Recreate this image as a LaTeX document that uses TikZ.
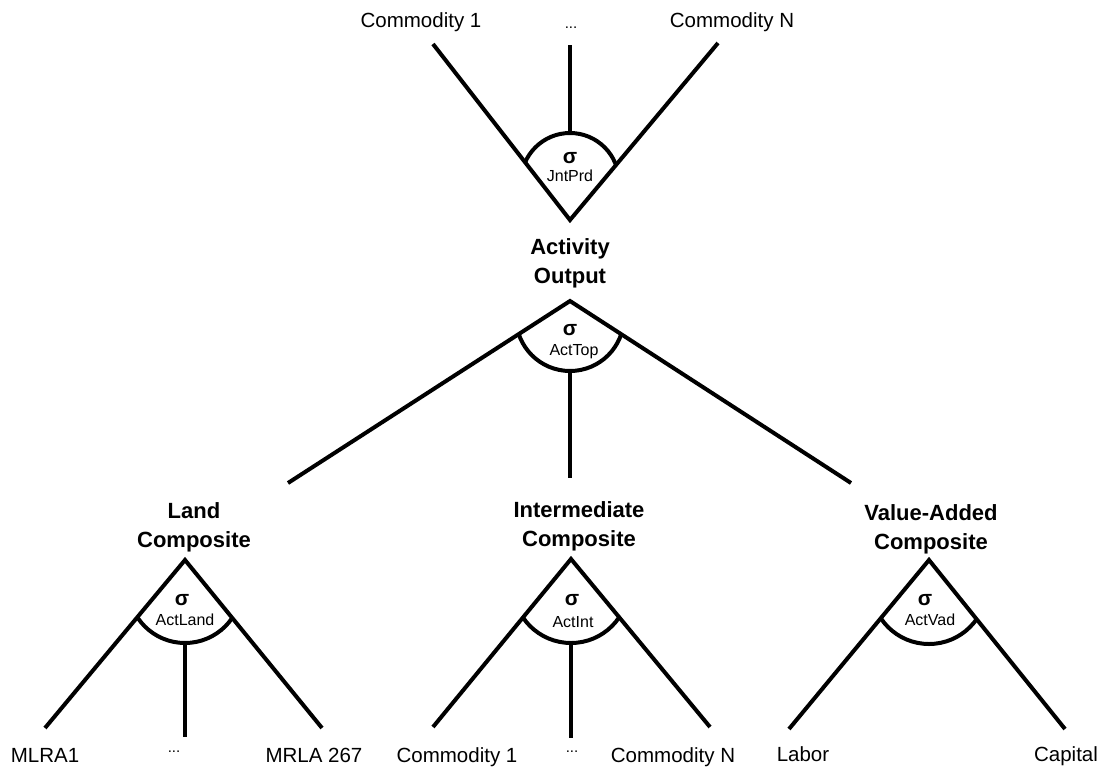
\documentclass[tikz,border=0pt]{standalone}
\usepackage{fontspec}
\setmainfont{Liberation Sans}
\begin{document}
\begin{tikzpicture}[x=1pt,y=-1pt,
  branch/.style={line width=4pt, line join=miter},
  sigarc/.style={line width=4pt},
  leaf/.style={anchor=base, inner sep=0pt, font=\fontsize{20.5}{24}\selectfont},
  gap/.style={anchor=base, inner sep=0pt, font=\fontsize{15}{18}\selectfont},
  agg/.style={anchor=base, inner sep=0pt, align=center, font=\fontsize{22}{29}\selectfont\bfseries},
  sig/.style={anchor=base, inner sep=0pt, font=\fontsize{21}{24}\selectfont\bfseries},
  nest/.style={anchor=base, inner sep=0pt, font=\fontsize{16}{18}\selectfont},
]
\useasboundingbox (0,0) rectangle (1106,769);

% ---- joint production nest (top) ----
\coordinate (jv) at (570,220);
\coordinate (jl) at (433,44);
\coordinate (jr) at (718,43);
\coordinate (jm) at (570,45);
\coordinate (jt) at (570,133);
\coordinate (jc) at (570,182);
\draw[branch] (jl) -- (jv) -- (jr);
\draw[branch] (jm) -- (jt);
\begin{scope}
  \clip (jl) -- (jv) -- (jr) -- cycle;
  \draw[sigarc] (jc) circle[radius=49pt];
\end{scope}
\node[leaf] (c1top) at (421,27) {Commodity 1};
\node[gap]  (dtop)  at (571,28) {...};
\node[leaf] (cntop) at (732,27) {Commodity N};
\node[sig]  (jsig)  at (570,163) {σ};
\node[nest] (jsub)  at (570,181) {JntPrd};

% ---- activity output (base anchor sits on the second line) ----
\node[agg] (act) at (570,283) {Activity\\Output};
\coordinate (tv) at (570,301);
\coordinate (tl) at (288,483);
\coordinate (tr) at (851,483);
\coordinate (tb) at (570,371);
\coordinate (tm) at (570,478);
\coordinate (tc) at (570,317);
\draw[branch] (tl) -- (tv) -- (tr);
\draw[branch] (tb) -- (tm);
\begin{scope}
  \clip (tl) -- (tv) -- (tr) -- cycle;
  \draw[sigarc] (tc) circle[radius=54pt];
\end{scope}
\node[sig]  (tsig) at (570,335) {σ};
\node[nest] (tsub) at (574,355) {ActTop};

% ---- land composite ----
\node[agg] (land) at (194,547) {Land\\Composite};
\coordinate (lv) at (185,560);
\coordinate (ll) at (45,728);
\coordinate (lr) at (322,728);
\coordinate (lb) at (185,643);
\coordinate (lm) at (185,737);
\coordinate (lc) at (185,586);
\draw[branch] (ll) -- (lv) -- (lr);
\draw[branch] (lb) -- (lm);
\begin{scope}
  \clip (ll) -- (lv) -- (lr) -- cycle;
  \draw[sigarc] (lc) circle[radius=57pt];
\end{scope}
\node[sig]  (lsig) at (182,605) {σ};
\node[nest] (lsub) at (185,625) {ActLand};
\node[leaf] (m1)   at (45,762)  {MLRA1};
\node[gap]  (dl)   at (174,752) {...};
\node[leaf] (m267) at (314,762) {MRLA 267};

% ---- intermediate composite ----
\node[agg] (int) at (579,546) {Intermediate\\Composite};
\coordinate (iv) at (571,559);
\coordinate (il) at (433,727);
\coordinate (ir) at (710,727);
\coordinate (ib) at (571,643);
\coordinate (im) at (571,738);
\coordinate (ic) at (571,585);
\draw[branch] (il) -- (iv) -- (ir);
\draw[branch] (ib) -- (im);
\begin{scope}
  \clip (il) -- (iv) -- (ir) -- cycle;
  \draw[sigarc] (ic) circle[radius=58pt];
\end{scope}
\node[sig]  (isig) at (572,605) {σ};
\node[nest] (isub) at (573,627) {ActInt};
\node[leaf] (c1bot) at (457,762) {Commodity 1};
\node[gap]  (di)    at (572,752) {...};
\node[leaf] (cnbot) at (673,762) {Commodity N};

% ---- value-added composite ----
\node[agg] (vad) at (931,549) {Value-Added\\Composite};
\coordinate (vv) at (929,560);
\coordinate (vl) at (789,729);
\coordinate (vr) at (1065,729);
\coordinate (vc) at (929,586);
\draw[branch] (vl) -- (vv) -- (vr);
\begin{scope}
  \clip (vl) -- (vv) -- (vr) -- cycle;
  \draw[sigarc] (vc) circle[radius=58pt];
\end{scope}
\node[sig]  (vsig) at (925,605) {σ};
\node[nest] (vsub) at (930,625) {ActVad};
\node[leaf] (lab) at (803,761)  {Labor};
\node[leaf] (cap) at (1066,761) {Capital};
\end{tikzpicture}
\end{document}
